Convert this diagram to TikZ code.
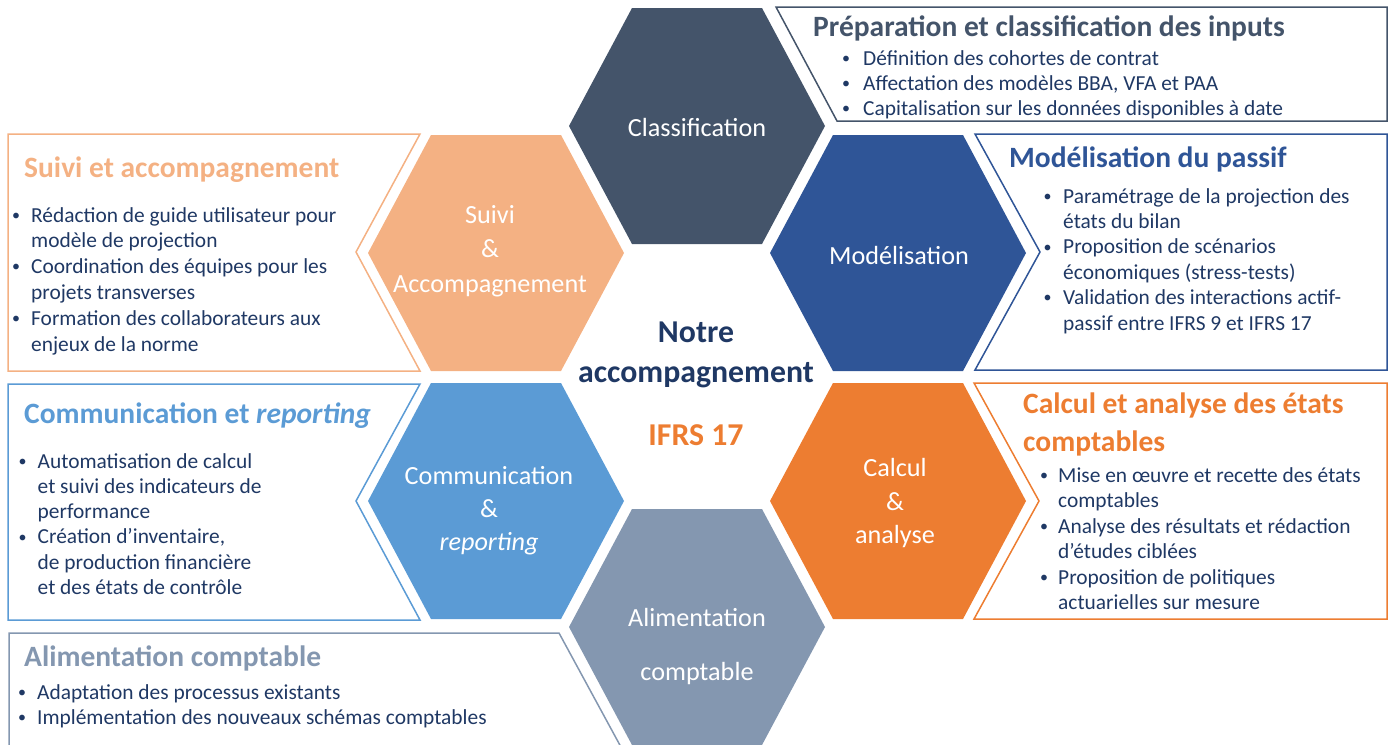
\documentclass[tikz,border=0pt]{standalone}
\usepackage{fontspec}
\setmainfont{Carlito}
\definecolor{cClass}{HTML}{44546A}
\definecolor{cModel}{HTML}{2F5597}
\definecolor{cCalc}{HTML}{ED7D31}
\definecolor{cAlim}{HTML}{8497B0}
\definecolor{cComm}{HTML}{5B9BD5}
\definecolor{cSuivi}{HTML}{F4B183}
\definecolor{cNavy}{HTML}{1F3864}
\newcommand\hexagonat[3]{\fill[#3] ({#1-128},#2) -- ({#1-65},{#2-118}) -- ({#1+65},{#2-118}) -- ({#1+128},#2) -- ({#1+65},{#2+118}) -- ({#1-65},{#2+118}) -- cycle;}
\newcommand\bul[1]{\llap{\makebox[#1pt]{\raisebox{1.7pt}{\fontsize{16}{16}\selectfont •}}}}
\tikzset{
  hexlabel/.style={anchor=base, inner sep=0pt, text=white, font=\fontsize{26.2}{31}\selectfont},
  boxtitle/.style={anchor=base west, inner sep=0pt, font=\fontsize{29.5}{34}\selectfont\bfseries},
  centretext/.style={anchor=base, inner sep=0pt, font=\fontsize{31.8}{36}\selectfont\bfseries},
  body/.style={anchor=base west, inner sep=0pt, text=cNavy},
  frame/.style={line width=1.5pt, line join=miter},
}
\begin{document}
\begin{tikzpicture}[x=1pt,y=-1pt]
\useasboundingbox (0,0) rectangle (1391,744);
\clip (0,0) rectangle (1391,744);
% hexagons
\hexagonat{697}{126}{cClass}
\hexagonat{898}{253}{cModel}
\hexagonat{898}{501}{cCalc}
\hexagonat{697}{627}{cAlim}
\hexagonat{496}{501}{cComm}
\hexagonat{496}{253}{cSuivi}
% boxes
\draw[frame, cClass] (776,7) -- (1387,7) -- (1387,121) -- (837,121) -- cycle;
\draw[frame, cModel] (975,134) -- (1387,134) -- (1387,370) -- (975,370) -- (1040,252) -- cycle;
\draw[frame, cCalc] (974,383) -- (1387,383) -- (1387,619) -- (974,619) -- (1039,501) -- cycle;
\draw[frame, cSuivi] (8,134) -- (420,134) -- (356,252) -- (420,371) -- (8,371) -- cycle;
\draw[frame, cComm] (8,384) -- (420,384) -- (356,501) -- (420,620) -- (8,620) -- cycle;
\draw[frame, cAlim] (9,760) -- (9,633) -- (559,633) -- (628,760);
% hexagon labels
\node[hexlabel] (lClass) at (697,136) {Classification};
\node[hexlabel] (lModel) at (899,264) {Modélisation};
\node[hexlabel] (lSuivi1) at (490,223) {Suivi};
\node[hexlabel] (lSuivi2) at (490,257) {\&};
\node[hexlabel] (lSuivi3) at (490,292) {Accompagnement};
\node[hexlabel] (lComm1) at (489,484) {Communication};
\node[hexlabel] (lComm2) at (489,517) {\&};
\node[hexlabel] (lComm3) at (489,550) {\itshape reporting};
\node[hexlabel] (lCalc1) at (895,476) {Calcul};
\node[hexlabel] (lCalc2) at (895,510) {\&};
\node[hexlabel] (lCalc3) at (895,543) {analyse};
\node[hexlabel] (lAlim1) at (697,626) {Alimentation};
\node[hexlabel] (lAlim2) at (697,680) {comptable};
% centre
\node[centretext, text=cNavy] (cNotre) at (696,342) {Notre};
\node[centretext, text=cNavy] (cAcc) at (696,382) {accompagnement};
\node[centretext, text=cCalc] (cIfrs) at (696,445) {IFRS 17};
% titles
\node[boxtitle, text=cClass] (tPrep) at (813,36) {Préparation et classification des inputs};
\node[boxtitle, text=cModel] (tModel) at (1009,167) {Modélisation du passif};
\node[boxtitle, text=cCalc] (tCalc1) at (1023,413) {Calcul et analyse des états};
\node[boxtitle, text=cCalc] (tCalc2) at (1023,451) {comptables};
\node[boxtitle, text=cSuivi] (tSuivi) at (24,177) {Suivi et accompagnement};
\node[boxtitle, text=cComm] (tComm) at (24,423) {Communication et \itshape reporting};
\node[boxtitle, text=cAlim] (tAlim) at (24,666) {Alimentation comptable};
% bodies
\node[body, font=\fontsize{21.4}{25}\selectfont] (bPrep) at (863,65) {\begin{tabular}[t]{@{}l@{}}
\bul{34}Définition des cohortes de contrat\\
\bul{34}Affectation des modèles BBA, VFA et PAA\\
\bul{34}Capitalisation sur les données disponibles à date
\end{tabular}};
\node[body, font=\fontsize{21.4}{25.4}\selectfont] (bModel) at (1063,203) {\begin{tabular}[t]{@{}l@{}}
\bul{31}Paramétrage de la projection des\\
états du bilan\\
\bul{31}Proposition de scénarios\\
économiques (stress-tests)\\
\bul{31}Validation des interactions actif-\\
passif entre IFRS 9 et IFRS 17
\end{tabular}};
\node[body, font=\fontsize{21.4}{25.5}\selectfont] (bCalc) at (1058,482) {\begin{tabular}[t]{@{}l@{}}
\bul{28}Mise en œuvre et recette des états\\
comptables\\
\bul{28}Analyse des résultats et rédaction\\
d’études ciblées\\
\bul{28}Proposition de politiques\\
actuarielles sur mesure
\end{tabular}};
\node[body, font=\fontsize{21.4}{25.8}\selectfont] (bSuivi) at (31,222) {\begin{tabular}[t]{@{}l@{}}
\bul{30}Rédaction de guide utilisateur pour\\
modèle de projection\\
\bul{30}Coordination des équipes pour les\\
projets transverses\\
\bul{30}Formation des collaborateurs aux\\
enjeux de la norme
\end{tabular}};
\node[body, font=\fontsize{21.4}{25.3}\selectfont] (bComm) at (37.5,468) {\begin{tabular}[t]{@{}l@{}}
\bul{30}Automatisation de calcul\\
et suivi des indicateurs de\\
performance\\
\bul{30}Création d’inventaire,\\
de production financière\\
et des états de contrôle
\end{tabular}};
\node[body, font=\fontsize{21.4}{25}\selectfont] (bAlim) at (37,699) {\begin{tabular}[t]{@{}l@{}}
\bul{30}Adaptation des processus existants\\
\bul{30}Implémentation des nouveaux schémas comptables
\end{tabular}};
\end{tikzpicture}
\end{document}
